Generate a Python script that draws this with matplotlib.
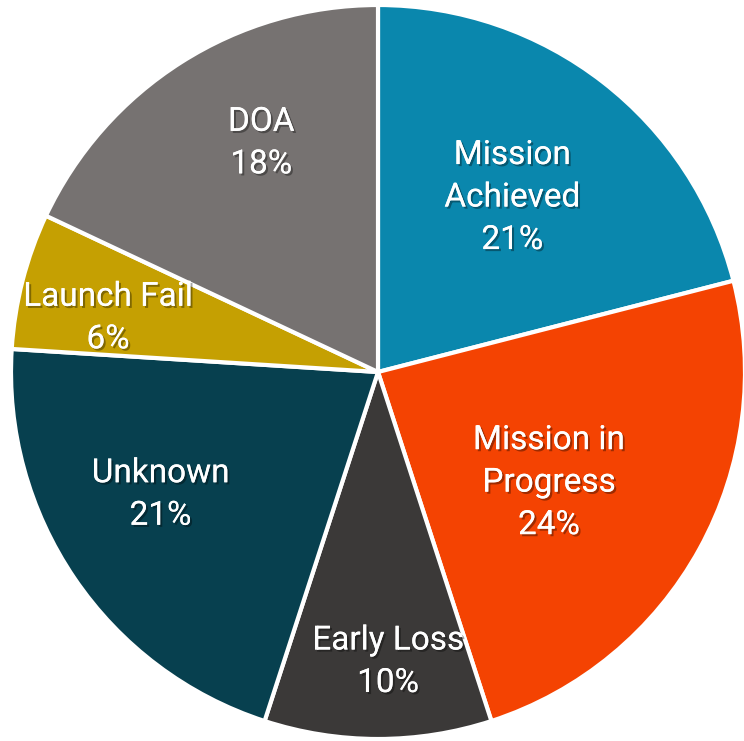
import numpy as np
import matplotlib.pyplot as plt
import matplotlib.patheffects as pe

# slice data (clockwise from 12 o'clock)
labels = ['Mission\nAchieved', 'Mission in\nProgress', 'Early Loss', 'Unknown', 'Launch Fail', 'DOA']
values = [21, 24, 10, 21, 6, 18]
colors = ['#0A87AD', '#F44302', '#3B3938', '#07404F', '#C5A002', '#767271']

# label placement: radius and angle shift from the slice middle
label_radius = [0.60, 0.555, 0.79, 0.68, 0.75, 0.70]
label_shift = [0.2, -4.1, 2.0, -4.8, 3.1, -5.4]

fig = plt.figure(figsize=(7.44, 7.41), dpi=100)
ax = fig.add_axes([0, 0, 1, 1])

wedges, _ = ax.pie(values, colors=colors, startangle=90, counterclock=False,
                   wedgeprops=dict(edgecolor='white', linewidth=3))

shadow = [pe.withSimplePatchShadow(offset=(1.5, -1.5), shadow_rgbFace='black', alpha=0.35), pe.Normal()]
for w, lab, v, r, s in zip(wedges, labels, values, label_radius, label_shift):
    mid = np.deg2rad((w.theta1 + w.theta2) / 2 + s)
    ax.text(r * np.cos(mid), r * np.sin(mid), '%s\n%d%%' % (lab, v),
            ha='center', va='center', color='white', fontsize=24,
            family=['Roboto', 'DejaVu Sans'], fontstretch='condensed',
            linespacing=1.42, path_effects=shadow)

ax.set_aspect('auto')
ax.set_xlim(-378 / 367, (744 - 378) / 367)
ax.set_ylim(-(741 - 372) / 367, 372 / 367)
ax.axis('off')

fig.savefig('out.png', dpi=100)
